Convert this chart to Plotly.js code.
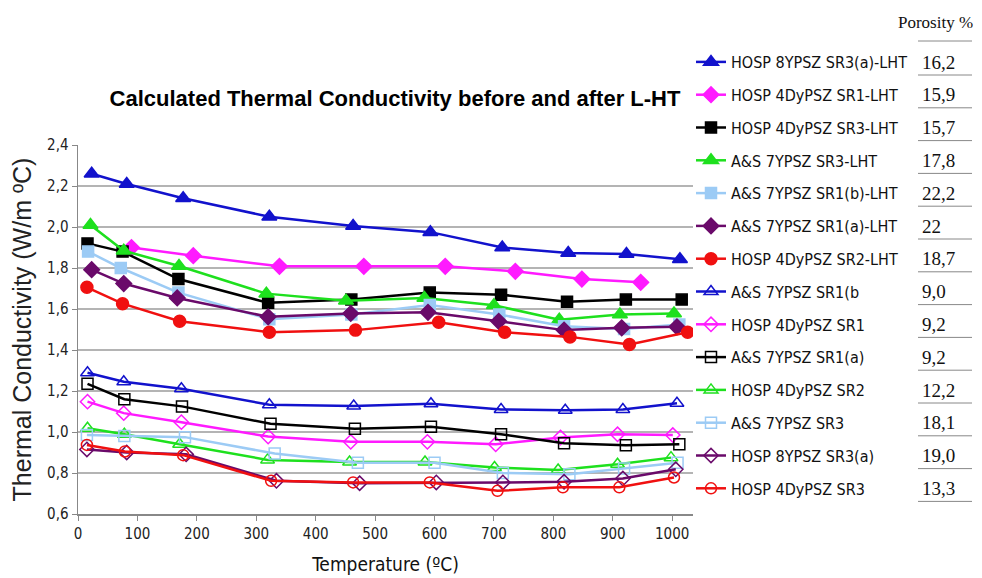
<!DOCTYPE html>
<html>
<head>
<meta charset="utf-8">
<script src="https://cdn.plot.ly/plotly-3.0.1.min.js"></script>
<style>html,body{margin:0;padding:0;background:#fff;}#chart{width:982px;height:578px;}</style>
</head>
<body>
<div id="chart"></div>
<script>
// ---- data ----
var seriesNames = [
  "HOSP 8YPSZ SR3(a)-LHT", "HOSP 4DyPSZ SR1-LHT", "HOSP 4DyPSZ SR3-LHT", "A&S 7YPSZ SR3-LHT",
  "A&S 7YPSZ SR1(b)-LHT", "A&S 7YPSZ SR1(a)-LHT", "HOSP 4DyPSZ SR2-LHT", "A&S 7YPSZ SR1(b",
  "HOSP 4DyPSZ SR1", "A&S 7YPSZ SR1(a)", "HOSP 4DyPSZ SR2", "A&S 7YPSZ SR3",
  "HOSP 8YPSZ SR3(a)", "HOSP 4DyPSZ SR3"
];
var porosity = ["16,2","15,9","15,7","17,8","22,2","22","18,7","9,0","9,2","9,2","12,2","18,1","19,0","13,3"];

var x1 = [23,82,177,322,463,593,714,825,923,1013];
var y1 = [2.26,2.21,2.14,2.05,2.005,1.975,1.90,1.873,1.868,1.843];
var x2 = [90,194,339,481,618,736,848,947];
var y2 = [1.90,1.86,1.808,1.808,1.808,1.784,1.746,1.73];
var x3 = [16,75,169,320,460,592,712,823,922,1016];
var y3 = [1.92,1.88,1.746,1.63,1.646,1.68,1.67,1.635,1.646,1.646];
var x4 = [21,77,170,317,451,583,700,810,912,1003];
var y4 = [2.01,1.884,1.81,1.675,1.64,1.654,1.618,1.548,1.573,1.578];
var x5 = [17,72,169,322,460,592,709,818,919,1012];
var y5 = [1.88,1.80,1.68,1.55,1.573,1.62,1.573,1.516,1.503,1.524];
var x6 = [23,77,167,320,459,589,708,818,915,1008];
var y6 = [1.792,1.724,1.654,1.562,1.578,1.584,1.54,1.497,1.508,1.513];
var x7 = [15,75,171,322,467,607,718,828,928,1026];
var y7 = [1.706,1.626,1.54,1.487,1.497,1.535,1.487,1.464,1.427,1.487];
var x8 = [16,77,174,322,464,594,712,820,917,1008];
var y8 = [1.289,1.245,1.211,1.133,1.127,1.138,1.11,1.106,1.11,1.14];
var x9 = [16,77,174,320,459,588,703,812,908,1001];
var y9 = [1.148,1.092,1.048,0.978,0.952,0.952,0.94,0.973,0.989,0.985];
var x10 = [16,78,175,324,466,594,712,818,922,1012];
var y10 = [1.235,1.16,1.125,1.04,1.016,1.026,0.989,0.945,0.935,0.94];
var x11 = [16,78,171,319,457,584,701,808,908,998];
var y11 = [1.018,0.989,0.94,0.864,0.854,0.854,0.827,0.815,0.843,0.875];
var x12 = [15,78,180,331,471,600,715,827,919,1009];
var y12 = [0.985,0.98,0.975,0.895,0.85,0.85,0.80,0.794,0.822,0.85];
var x13 = [15,82,182,334,474,603,715,818,917,1006];
var y13 = [0.915,0.90,0.891,0.762,0.75,0.754,0.754,0.757,0.773,0.818];
var x14 = [15,79,177,325,463,592,706,816,911,1003];
var y14 = [0.937,0.905,0.887,0.762,0.754,0.754,0.713,0.73,0.73,0.778];

var xs = [x1,x2,x3,x4,x5,x6,x7,x8,x9,x10,x11,x12,x13,x14];
var ys = [y1,y2,y3,y4,y5,y6,y7,y8,y9,y10,y11,y12,y13,y14];

// ---- styles ----
var colors = ["#1212cc","#ff1aff","#000000","#1ee01e","#9ccbf5","#6a0a6a","#f01010",
              "#1212cc","#ff1aff","#000000","#1ee01e","#9ccbf5","#6a0a6a","#f01010"];
var symbols = ["triangle-up","diamond","square","triangle-up","square","diamond","circle",
               "triangle-up-open","diamond-open","square-open","triangle-up-open","square-open","diamond-open","circle-open"];
var sizes = [13,12,11,13,11,12,12, 12,11,11,12,11,11,11];

var narrow = "Liberation Sans Narrow, Arial Narrow, DejaVu Sans Condensed, sans-serif";
var serif = "Liberation Serif, Times New Roman, serif";
var sans = "Liberation Sans, Arial, sans-serif";

var traces = [];
for (var i = 0; i < seriesNames.length; i++) {
  traces.push({
    type: "scatter", mode: "lines+markers",
    name: seriesNames[i], x: xs[i], y: ys[i],
    legendgroup: "g" + i,
    line: {color: colors[i], width: 2.5},
    marker: {symbol: symbols[i], size: sizes[i], color: colors[i],
             line: {color: colors[i], width: 1.5}}
  });
}

// plot area: x 78..693, y 145..514
var L = 78, R = 693, T = 145, B = 514;
function px(x){ return (x - L) / (R - L); }
function py(y){ return (B - y) / (B - T); }

var annotations = [{
  text: "Porosity %", xref: "paper", yref: "paper", x: px(935), y: py(23),
  showarrow: false, font: {family: serif, size: 17, color: "#111"}, xanchor: "center", yanchor: "middle"
}];
var shapes = [{type: "line", xref: "paper", yref: "paper", x0: px(918), x1: px(972), y0: py(41), y1: py(41),
               line: {color: "#888", width: 1}}];
for (var k = 0; k < porosity.length; k++) {
  var yc = 62 + 32.8 * k;
  annotations.push({
    text: porosity[k], xref: "paper", yref: "paper", x: px(920), y: py(yc),
    showarrow: false, xanchor: "left", yanchor: "middle",
    font: {family: serif, size: 19, color: "#111"}
  });
  shapes.push({type: "line", xref: "paper", yref: "paper", x0: px(918), x1: px(972),
               y0: py(yc + 13), y1: py(yc + 13), line: {color: "#888", width: 1}});
}

var layout = {
  width: 982, height: 578,
  margin: {l: L, r: 982 - R, t: T, b: 578 - B, pad: 0},
  paper_bgcolor: "#fff", plot_bgcolor: "#fff",
  separators: ", ",
  showlegend: true,
  title: {text: "Calculated Thermal Conductivity before and after L-HT",
          font: {family: sans, size: 22, color: "#000", weight: "bold"},
          x: px(395), xref: "paper", xanchor: "center", y: 1 - 98/578, yanchor: "middle"},
  xaxis: {range: [0, 1035], tickvals: [0,100,200,300,400,500,600,700,800,900,1000], tickformat: "d",
          showgrid: false, zeroline: false, showline: true, linecolor: "#888", linewidth: 1.5,
          ticks: "outside", ticklen: 5, tickcolor: "#888",
          tickfont: {family: narrow, size: 15, color: "#222"},
          title: {text: "Temperature (ºC)", font: {family: narrow, size: 19, color: "#111"}, standoff: 16}},
  yaxis: {range: [0.6, 2.4], tickvals: [0.6,0.8,1.0,1.2,1.4,1.6,1.8,2.0,2.2,2.4], tickformat: ".1f",
          showgrid: true, gridcolor: "#b4b4b4", gridwidth: 1.5, zeroline: false,
          showline: true, linecolor: "#888", linewidth: 1.5,
          ticks: "outside", ticklen: 5, tickcolor: "#888",
          tickfont: {family: narrow, size: 15, color: "#222"},
          title: {text: "Thermal Conductivity (W/m ºC)", font: {family: sans, size: 25, color: "#222"}, standoff: 8}},
  legend: {x: px(691), y: py(45), xanchor: "left", yanchor: "top", xref: "paper", yref: "paper",
           traceorder: "grouped", tracegroupgap: 9, maxheight: 560,
           font: {family: narrow, size: 16, color: "#111"}, bgcolor: "rgba(0,0,0,0)", borderwidth: 0,
           itemwidth: 30},
  annotations: annotations,
  shapes: shapes
};

Plotly.newPlot("chart", traces, layout, {displayModeBar: false, staticPlot: true});
</script>
</body>
</html>
